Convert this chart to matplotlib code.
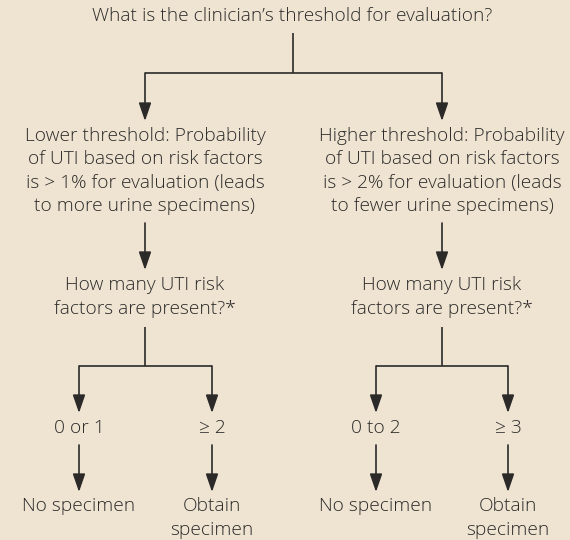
import matplotlib.pyplot as plt

# texts of the flowchart
question = "What is the clinician\u2019s threshold for evaluation?"
branch_texts = [
    "Lower threshold: Probability\nof UTI based on risk factors\nis > 1% for evaluation (leads\nto more urine specimens)",
    "Higher threshold: Probability\nof UTI based on risk factors\nis > 2% for evaluation (leads\nto fewer urine specimens)",
]
risk_question = "How many UTI risk\nfactors are present?*"
risk_counts = [["0 or 1", "\u2265 2"], ["0 to 2", "\u2265 3"]]
outcomes = ["No specimen", "Obtain\nspecimen"]

bg = "#efe4d2"
ink = "#2b2a29"
lw = 1.2

fig = plt.figure(figsize=(5.7, 5.4), dpi=100, facecolor=bg)
ax = fig.add_axes([0, 0, 1, 1])
ax.set_xlim(0, 570)
ax.set_ylim(540, 0)
ax.axis("off")
ax.set_facecolor(bg)

font = dict(family=["Open Sans", "DejaVu Sans"], fontsize=13.8, color=ink,
            weight="light", ha="center", va="center", linespacing=1.37)


def line(xs, ys):
    ax.plot(xs, ys, color=ink, lw=lw, solid_capstyle="butt")


def arrow(x, y0, y1):
    ax.annotate("", xy=(x, y1), xytext=(x, y0),
                arrowprops=dict(arrowstyle="-|>,head_length=1.1,head_width=0.38",
                                color=ink, lw=lw, shrinkA=0, shrinkB=0))


ax.text(292, 16, question, **font)
line([293, 293], [33, 73])
line([145, 442], [73, 73])

cols = [145, 442]
subs = [(79, 212), (376, 508)]
for i, cx in enumerate(cols):
    arrow(cx, 73, 121)
    ax.text(cx, 171, branch_texts[i], **font)
    arrow(cx, 223, 270)
    ax.text(cx, 297, risk_question, **font)
    line([cx, cx], [327, 366])
    line([subs[i][0], subs[i][1]], [366, 366])
    for j, sx in enumerate(subs[i]):
        arrow(sx, 366, 413)
        ax.text(sx, 428, risk_counts[i][j], **font)
        arrow(sx, 445, 492)
        if j == 0:
            ax.text(sx, 506, outcomes[j], **font)
        else:
            ax.text(sx, 518, outcomes[j], **font)

fig.savefig("out.png", dpi=100, facecolor=bg)
